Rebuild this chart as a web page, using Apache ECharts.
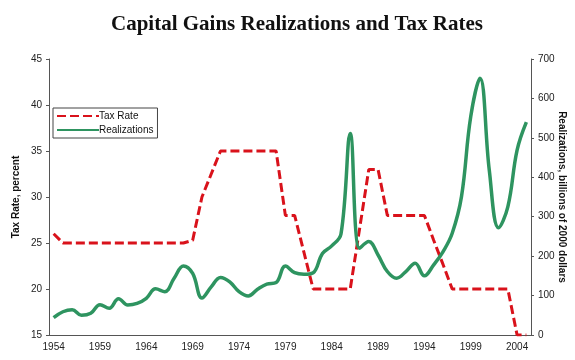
<!DOCTYPE html>
<html>
<head>
<meta charset="utf-8">
<script src="https://cdn.jsdelivr.net/npm/echarts@6/dist/echarts.min.js"></script>
<style>html,body{margin:0;padding:0;background:#fff}#c{width:575px;height:360px}</style>
</head>
<body>
<div id="c"></div>
<script>
var years = [];
for (var y = 1954; y <= 2005; y++) years.push(String(y));

var taxRate = [26, 25, 25, 25, 25, 25, 25, 25, 25, 25, 25, 25, 25, 25, 25, 25.3,
  30, 32.5, 35, 35, 35, 35, 35, 35, 35, 28, 28, 24, 20, 20, 20, 20, 20,
  26.5, 33, 33, 28, 28, 28, 28, 28, 25.3, 22.7, 20, 20, 20, 20, 20, 20, 20, 15, 15];

var realizations = [44, 59, 64, 50, 55, 77, 68, 92, 76, 80, 93, 117, 110, 144, 175, 156,
  94, 122, 146, 135, 110, 99, 116, 129, 133, 175, 158, 154, 158, 207, 226, 256,
  511, 220, 237, 203, 161, 144, 161, 182, 150, 178, 211, 258, 351, 554, 651, 418,
  272, 325, 469, 540];

var chart = echarts.init(document.getElementById('c'), null, {renderer: 'canvas'});
var axisColor = '#555';
var labelFont = {fontFamily: 'Liberation Sans, Arial, sans-serif', fontSize: 10, color: '#222'};
chart.setOption({
  animation: false,
  backgroundColor: '#fff',
  title: {
    text: 'Capital Gains Realizations and Tax Rates',
    left: 106, top: 9,
    textStyle: {fontFamily: 'Liberation Serif, Times New Roman, serif', fontWeight: 'bold', fontSize: 21, color: '#111'}
  },
  legend: {
    orient: 'vertical', left: 53, top: 108,
    itemWidth: 42, itemHeight: 10, itemGap: 4,
    borderColor: '#444', borderWidth: 1, padding: [3, 4, 3, 3],
    itemStyle: {opacity: 0},
    textStyle: {fontFamily: 'Liberation Sans, Arial, sans-serif', fontSize: 10, color: '#111', padding: [0, 0, 0, -5]},
    data: ['Tax Rate', 'Realizations']
  },
  grid: {left: 49, right: 44, top: 59, bottom: 25, containLabel: false, outerBoundsMode: 'none'},
  xAxis: {
    type: 'category', data: years, boundaryGap: true,
    axisLine: {lineStyle: {color: axisColor, width: 1}},
    axisTick: {interval: 0, length: 3, lineStyle: {color: axisColor}},
    axisLabel: Object.assign({interval: 4, margin: 7}, labelFont)
  },
  yAxis: [
    {
      type: 'value', min: 15, max: 45, interval: 5,
      name: 'Tax Rate, percent', nameLocation: 'middle', nameRotate: 90, nameGap: 28,
      nameMoveOverlap: false,
      nameTextStyle: {fontFamily: 'Liberation Sans, Arial, sans-serif', fontSize: 10, fontWeight: 'bold', color: '#111'},
      axisLine: {show: true, lineStyle: {color: axisColor}},
      axisTick: {show: true, length: 3, lineStyle: {color: axisColor}},
      axisLabel: Object.assign({margin: 7}, labelFont),
      splitLine: {show: false}
    },
    {
      type: 'value', min: 0, max: 700, interval: 100, position: 'right',
      name: 'Realizations, billions of 2000 dollars', nameLocation: 'middle', nameRotate: -90, nameGap: 26,
      nameMoveOverlap: false,
      nameTextStyle: {fontFamily: 'Liberation Sans, Arial, sans-serif', fontSize: 10, fontWeight: 'bold', color: '#111'},
      axisLine: {show: true, lineStyle: {color: axisColor}},
      axisTick: {show: true, length: 3, lineStyle: {color: axisColor}},
      axisLabel: Object.assign({margin: 7}, labelFont),
      splitLine: {show: false}
    }
  ],
  series: [
    {
      name: 'Tax Rate', type: 'line', yAxisIndex: 0, data: taxRate,
      symbol: 'none', smooth: false,
      lineStyle: {color: '#d9121b', width: 3, type: [9, 4]},
      itemStyle: {color: '#d9121b'}
    },
    {
      name: 'Realizations', type: 'line', yAxisIndex: 1, data: realizations,
      symbol: 'none', smooth: 0.4,
      lineStyle: {color: '#2e9460', width: 3.5},
      itemStyle: {color: '#2e9460'}
    }
  ]
});
</script>
</body>
</html>
